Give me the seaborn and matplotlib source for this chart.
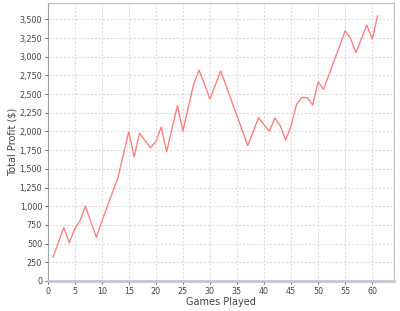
import matplotlib
matplotlib.use("Agg")
import matplotlib.pyplot as plt
import seaborn as sns
import pandas as pd
from matplotlib.ticker import FuncFormatter, MultipleLocator

games = list(range(1, 62))
profit = [317, 515, 713, 512, 695, 806, 1003, 790, 584, 790,
          990, 1190, 1380, 1690, 1997, 1662, 1975, 1880, 1783, 1863,
          2060, 1729, 2040, 2344, 2006, 2320, 2634, 2820, 2630, 2434,
          2620, 2810, 2610, 2410, 2210, 2010, 1809, 2000, 2184, 2090,
          2002, 2180, 2077, 1886, 2073, 2360, 2456, 2451, 2354, 2665,
          2563, 2760, 2955, 3150, 3347, 3245, 3053, 3240, 3423, 3236, 3548]

df = pd.DataFrame({"Games Played": games, "Total Profit ($)": profit})

sns.set_style("white")
plt.rcParams['font.family'] = ['DejaVu Sans']

fig = plt.figure(figsize=(4, 3.11), dpi=100)
ax = fig.add_axes([0.119, 0.0965, 0.867, 0.8925])

sns.lineplot(data=df, x="Games Played", y="Total Profit ($)", ax=ax,
             color="#ff8080", linewidth=1.0)

ax.set_xlim(0, 64.1)
ax.set_ylim(0, 3713)
ax.xaxis.set_major_locator(MultipleLocator(5))
ax.yaxis.set_major_locator(MultipleLocator(250))
ax.yaxis.set_major_formatter(FuncFormatter(lambda v, p: f"{int(v):,}"))

ax.grid(True, color="#d8d8d8", linestyle=(0, (2, 2)), linewidth=0.7)
ax.set_axisbelow(True)

for s in ["top", "right"]:
    ax.spines[s].set_color("#c0c0c0")
    ax.spines[s].set_linewidth(0.8)
ax.spines["left"].set_color("#a0a0a0")
ax.spines["left"].set_linewidth(0.8)
ax.spines["bottom"].set_color("#c4c4d4")
ax.spines["bottom"].set_linewidth(2.0)

ax.tick_params(axis="both", labelsize=5.8, colors="#444444", length=2,
               width=0.6, direction="out", pad=2, bottom=True, left=True)
ax.set_xlabel("Games Played", fontsize=7, color="#444444", labelpad=1)
ax.set_ylabel("Total Profit ($)", fontsize=7, color="#444444", labelpad=1)

fig.savefig("out.png", dpi=100)
